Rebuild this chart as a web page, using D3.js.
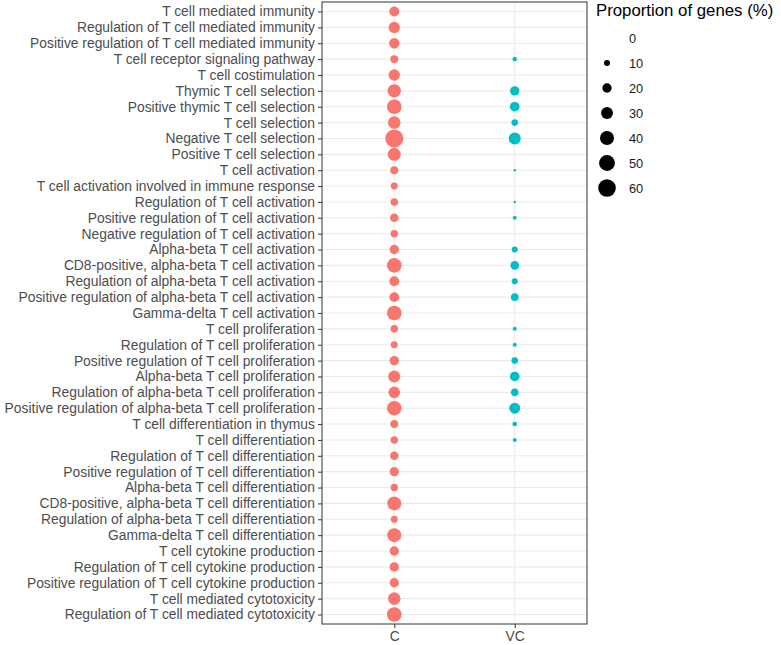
<!DOCTYPE html>
<html>
<head>
<meta charset="utf-8">
<script src="https://cdn.jsdelivr.net/npm/d3@7"></script>
<style>
  body { margin: 0; background: #fff; }
  svg text { font-family: "Liberation Sans", Arial, sans-serif; }
</style>
</head>
<body>
<div id="chart-area"></div>
<script>
// GO terms, top to bottom
var terms = [
  "T cell mediated immunity",
  "Regulation of T cell mediated immunity",
  "Positive regulation of T cell mediated immunity",
  "T cell receptor signaling pathway",
  "T cell costimulation",
  "Thymic T cell selection",
  "Positive thymic T cell selection",
  "T cell selection",
  "Negative T cell selection",
  "Positive T cell selection",
  "T cell activation",
  "T cell activation involved in immune response",
  "Regulation of T cell activation",
  "Positive regulation of T cell activation",
  "Negative regulation of T cell activation",
  "Alpha-beta T cell activation",
  "CD8-positive, alpha-beta T cell activation",
  "Regulation of alpha-beta T cell activation",
  "Positive regulation of alpha-beta T cell activation",
  "Gamma-delta T cell activation",
  "T cell proliferation",
  "Regulation of T cell proliferation",
  "Positive regulation of T cell proliferation",
  "Alpha-beta T cell proliferation",
  "Regulation of alpha-beta T cell proliferation",
  "Positive regulation of alpha-beta T cell proliferation",
  "T cell differentiation in thymus",
  "T cell differentiation",
  "Regulation of T cell differentiation",
  "Positive regulation of T cell differentiation",
  "Alpha-beta T cell differentiation",
  "CD8-positive, alpha-beta T cell differentiation",
  "Regulation of alpha-beta T cell differentiation",
  "Gamma-delta T cell differentiation",
  "T cell cytokine production",
  "Regulation of T cell cytokine production",
  "Positive regulation of T cell cytokine production",
  "T cell mediated cytotoxicity",
  "Regulation of T cell mediated cytotoxicity"
];

var groups = ["C", "VC"];

// proportion of genes (%), null = not enriched
var cValues = [22.4, 27.7, 24, 15.6, 27.7, 37, 43, 33, 62, 35,
               15.6, 12.6, 14.4, 17.5, 13.7, 20, 43, 22, 22, 43,
               14.4, 12.6, 20, 30.5, 29, 43, 15.6, 14.4, 17.4, 20,
               13.7, 40, 12.6, 40, 20, 20, 20, 33, 43];
var vcValues = [null, null, null, 6.8, null, 20, 21, 11.5, 30.5, null,
                3.3, null, 3.3, 5.6, null, 10, 17.4, 10, 14.4, null,
                5.6, 5.6, 11.5, 21, 14.4, 26.3, 6.8, 5.6, null, null,
                null, null, null, null, null, null, null, null, null];

var sizeBreaks = [0, 10, 20, 30, 40, 50, 60];
var groupColors = ["#F8766D", "#00BFC4"];

var panel = { left: 322, right: 587, top: 2, bottom: 624 };

var svg = d3.select("#chart-area")
  .append("svg")
    .attr("width", 781)
    .attr("height", 645);

var x = d3.scalePoint()
  .domain(groups)
  .range([panel.left, panel.right])
  .padding(0.6);

var y = d3.scalePoint()
  .domain(terms)
  .range([panel.top, panel.bottom])
  .padding(0.6);

var size = d3.scaleSqrt()
  .domain([0, 60])
  .range([-1, 8.8]);
var radius = function(v) { return Math.max(0, size(v)); };

// Grid lines
svg.append("g").selectAll("line.hgrid")
  .data(terms)
  .enter().append("line")
    .attr("x1", panel.left).attr("x2", panel.right)
    .attr("y1", function(d) { return y(d); })
    .attr("y2", function(d) { return y(d); })
    .attr("stroke", "#EBEBEB")
    .attr("stroke-width", 1.1);

svg.append("g").selectAll("line.vgrid")
  .data(groups)
  .enter().append("line")
    .attr("y1", panel.top).attr("y2", panel.bottom)
    .attr("x1", function(d) { return x(d); })
    .attr("x2", function(d) { return x(d); })
    .attr("stroke", "#EBEBEB")
    .attr("stroke-width", 1.1);

// Points
var points = [];
terms.forEach(function(t, i) {
  if (cValues[i] != null) points.push({ term: t, group: "C", value: cValues[i] });
  if (vcValues[i] != null) points.push({ term: t, group: "VC", value: vcValues[i] });
});

svg.append("g").selectAll("circle")
  .data(points)
  .enter().append("circle")
    .attr("cx", function(d) { return x(d.group); })
    .attr("cy", function(d) { return y(d.term); })
    .attr("r", function(d) { return radius(d.value); })
    .attr("fill", function(d) { return groupColors[groups.indexOf(d.group)]; });

// Panel border
svg.append("rect")
  .attr("x", panel.left).attr("y", panel.top)
  .attr("width", panel.right - panel.left)
  .attr("height", panel.bottom - panel.top)
  .attr("fill", "none")
  .attr("stroke", "#333333")
  .attr("stroke-width", 1);

// Axes
var yAxisGroup = svg.append("g")
  .attr("transform", "translate(" + panel.left + ",0)")
  .call(d3.axisLeft(y).tickSize(4).tickPadding(3));

var xAxisGroup = svg.append("g")
  .attr("transform", "translate(0," + panel.bottom + ")")
  .call(d3.axisBottom(x).tickSize(4).tickPadding(3));

[yAxisGroup, xAxisGroup].forEach(function(g) {
  g.select(".domain").remove();
  g.selectAll(".tick line").attr("stroke", "#333333").attr("stroke-width", 1);
  g.selectAll(".tick text")
    .attr("fill", "#4D4D4D")
    .attr("font-size", "13.85px")
    .attr("font-family", "Liberation Sans, Arial, sans-serif");
});

// Legend
var legend = svg.append("g");

legend.append("text")
  .attr("x", 596)
  .attr("y", 16)
  .attr("font-size", "16.8px")
  .attr("fill", "#000")
  .text("Proportion of genes (%)");

var keys = legend.selectAll("g.key")
  .data(sizeBreaks)
  .enter().append("g")
    .attr("transform", function(d, i) { return "translate(607," + (38 + i * 25) + ")"; });

keys.append("circle")
  .attr("r", function(d) { return radius(d); })
  .attr("fill", "#000");

keys.append("text")
  .attr("x", 22)
  .attr("y", 4.5)
  .attr("font-size", "12.8px")
  .attr("fill", "#1A1A1A")
  .text(function(d) { return d; });
</script>
</body>
</html>
